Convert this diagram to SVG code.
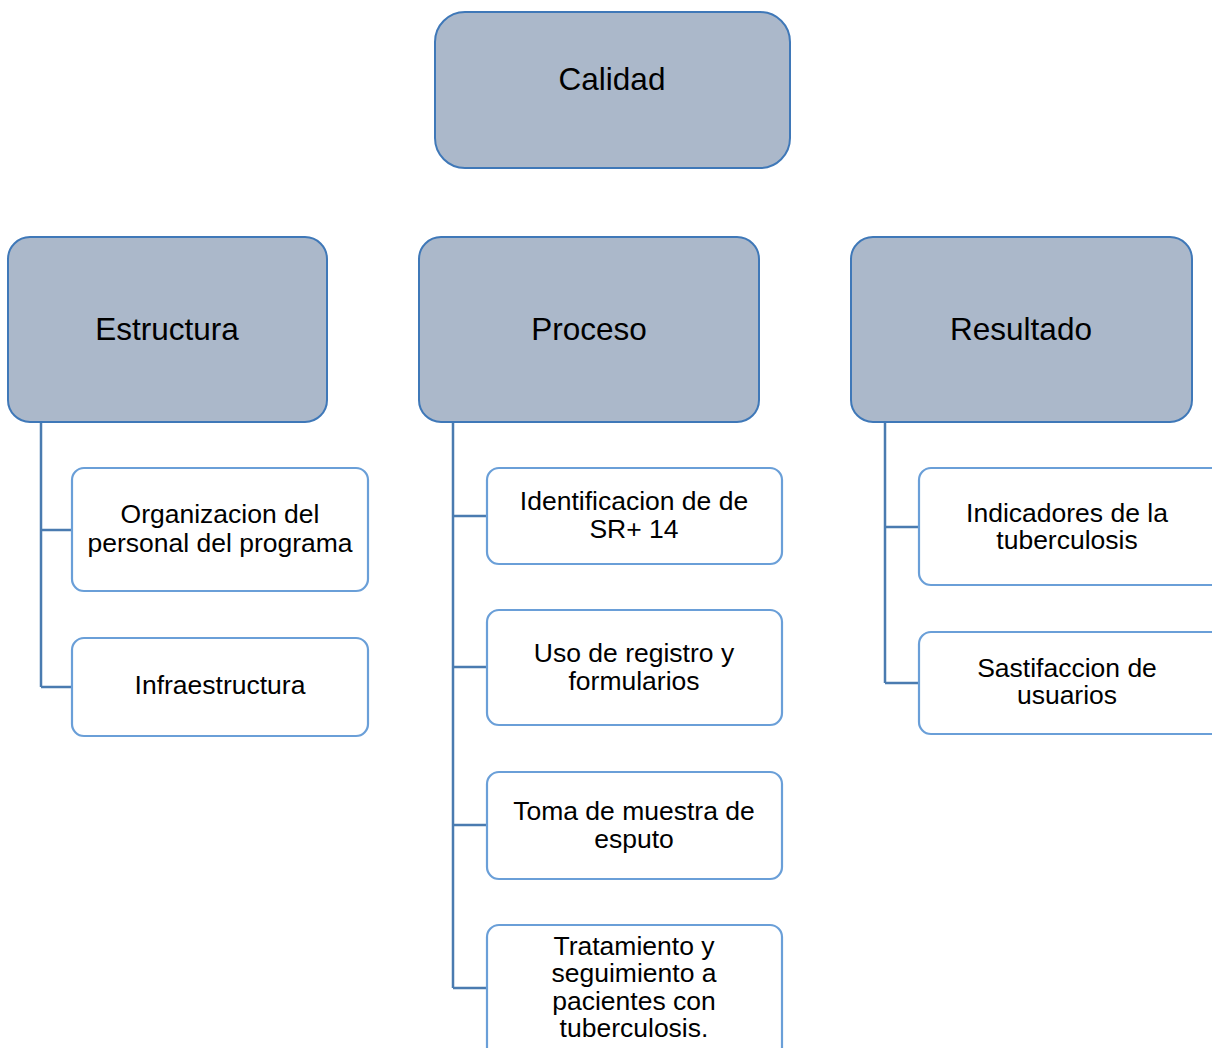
<svg xmlns="http://www.w3.org/2000/svg" width="1212" height="1048" viewBox="0 0 1212 1048">
<style>
.hdr{fill:#abb8ca;stroke:#3f78b8;stroke-width:2}
.child{fill:#ffffff;stroke:#6a9fd8;stroke-width:2.2}
.conn{fill:none;stroke:#4a7bb0;stroke-width:2.5}
text{font-family:"Liberation Sans",Arial,sans-serif;fill:#000;text-anchor:middle}
.big{font-size:31.5px}
.sm{font-size:26.5px}
</style>
<rect width="1212" height="1048" fill="#ffffff"/>
<g id="connectors">
<path class="conn" d="M41 422 V687 M41 530 H72 M41 687 H72"/>
<path class="conn" d="M453 422 V988 M453 516 H487 M453 667 H487 M453 825 H487 M453 988 H487"/>
<path class="conn" d="M885 422 V683 M885 527 H919 M885 683 H919"/>
</g>
<g id="calidad">
<rect class="hdr" x="435" y="12" width="355" height="156" rx="30"/>
<text class="big" x="612" y="90">Calidad</text>
</g>
<g id="estructura">
<rect class="hdr" x="8" y="237" width="319" height="185" rx="22"/>
<text class="big" x="167" y="340">Estructura</text>
</g>
<g id="proceso">
<rect class="hdr" x="419" y="237" width="340" height="185" rx="22"/>
<text class="big" x="589" y="340">Proceso</text>
</g>
<g id="resultado">
<rect class="hdr" x="851" y="237" width="341" height="185" rx="22"/>
<text class="big" x="1021" y="340">Resultado</text>
</g>
<g id="organizacion">
<rect class="child" x="72" y="468" width="296" height="123" rx="12"/>
<text class="sm" x="220" y="523">Organizacion del</text>
<text class="sm" x="220" y="552">personal del programa</text>
</g>
<g id="infraestructura">
<rect class="child" x="72" y="638" width="296" height="98" rx="12"/>
<text class="sm" x="220" y="694">Infraestructura</text>
</g>
<g id="identificacion">
<rect class="child" x="487" y="468" width="295" height="96" rx="12"/>
<text class="sm" x="634" y="510">Identificacion de de</text>
<text class="sm" x="634" y="538">SR+ 14</text>
</g>
<g id="uso">
<rect class="child" x="487" y="610" width="295" height="115" rx="12"/>
<text class="sm" x="634" y="662">Uso de registro y</text>
<text class="sm" x="634" y="690">formularios</text>
</g>
<g id="toma">
<rect class="child" x="487" y="772" width="295" height="107" rx="12"/>
<text class="sm" x="634" y="820">Toma de muestra de</text>
<text class="sm" x="634" y="848">esputo</text>
</g>
<g id="tratamiento">
<rect class="child" x="487" y="925" width="295" height="135" rx="12"/>
<text class="sm" x="634" y="955">Tratamiento y</text>
<text class="sm" x="634" y="982">seguimiento a</text>
<text class="sm" x="634" y="1010">pacientes con</text>
<text class="sm" x="634" y="1037">tuberculosis.</text>
</g>
<g id="indicadores">
<rect class="child" x="919" y="468" width="310" height="117" rx="12"/>
<text class="sm" x="1067" y="522">Indicadores de la</text>
<text class="sm" x="1067" y="549">tuberculosis</text>
</g>
<g id="satisfaccion">
<rect class="child" x="919" y="632" width="310" height="102" rx="12"/>
<text class="sm" x="1067" y="677">Sastifaccion de</text>
<text class="sm" x="1067" y="704">usuarios</text>
</g>
</svg>
